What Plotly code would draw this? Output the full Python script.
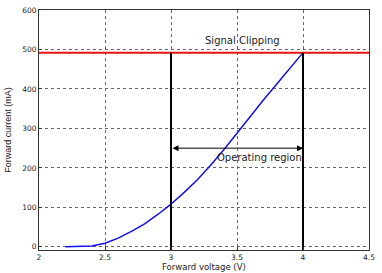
import plotly.graph_objects as go

voltage = [2.2, 2.3, 2.4, 2.5, 2.6, 2.7, 2.8, 2.9, 3.0, 3.1, 3.2, 3.3, 3.4, 3.5, 3.6, 3.7, 3.8, 3.9, 4.0]
current = [0, 0.5, 2, 9, 22, 39, 58, 82, 108, 138, 170, 207, 246, 288, 331, 372, 412, 452, 492]
clip_level = 492
op_low, op_high = 3.0, 4.0
arrow_level = 250
x_ticks = [2, 2.5, 3, 3.5, 4, 4.5]
y_ticks = [0, 100, 200, 300, 400, 500, 600]

wide = "DejaVu Sans, Liberation Sans, sans-serif"
ann_font = dict(family=wide, size=10, color="#222")
xt_font = dict(family=wide, size=8.5, color="#222")
yt_font = dict(family="Liberation Sans, Arial, sans-serif", size=9, color="#222")
tick_font = dict(family=wide, size=7.5, color="#222")

fig = go.Figure()
fig.add_trace(go.Scatter(x=voltage, y=current, mode="lines",
                         line=dict(color="#1010ee", width=1.5), showlegend=False))
fig.add_trace(go.Scatter(x=[2, 4.5], y=[clip_level, clip_level], mode="lines",
                         line=dict(color="#ee1111", width=2), showlegend=False))
for xv in (op_low, op_high):
    fig.add_trace(go.Scatter(x=[xv, xv], y=[-8, clip_level], mode="lines",
                             line=dict(color="black", width=2), showlegend=False))

fig.add_annotation(x=op_high, y=arrow_level, ax=op_low, ay=arrow_level,
                   xref="x", yref="y", axref="x", ayref="y", text="",
                   showarrow=True, arrowhead=2, arrowside="end+start",
                   arrowwidth=1, arrowsize=1.2, arrowcolor="black")
fig.add_annotation(x=3.67, y=227, text="Operating region", showarrow=False,
                   xref="x", yref="y", font=ann_font)
fig.add_annotation(x=3.54, y=522, text="Signal Clipping", showarrow=False,
                   xref="x", yref="y", font=ann_font)
fig.add_annotation(x=0.5, y=-23 / 240, xref="paper", yref="paper", yanchor="bottom",
                   text="Forward voltage (V)", showarrow=False, font=xt_font,
                   borderpad=0)
fig.add_annotation(x=-0.095, y=0.5, xref="paper", yref="paper", xanchor="center",
                   text="Forward current (mA)", textangle=-90, showarrow=False, font=yt_font)

axis_common = dict(showline=True, linecolor="#333", linewidth=1, mirror=True,
                   ticks="inside", ticklen=3, tickcolor="#333", automargin=False,
                   showgrid=True, gridcolor="#666", griddash="dot", gridwidth=1,
                   zeroline=False, tickfont=tick_font)
fig.update_xaxes(range=[2, 4.5], tickvals=x_ticks, ticktext=[str(t) for t in x_ticks],
                 ticklabelstandoff=0, **axis_common)
fig.update_yaxes(range=[-8, 600], tickvals=y_ticks, **axis_common)

fig.update_layout(width=382, height=273, margin=dict(l=39, r=13, t=10, b=23),
                  paper_bgcolor="white", plot_bgcolor="white")
fig.write_html("out.html", config={"displayModeBar": False},
               post_script="document.body.style.margin='0';document.body.style.overflow='hidden';")
